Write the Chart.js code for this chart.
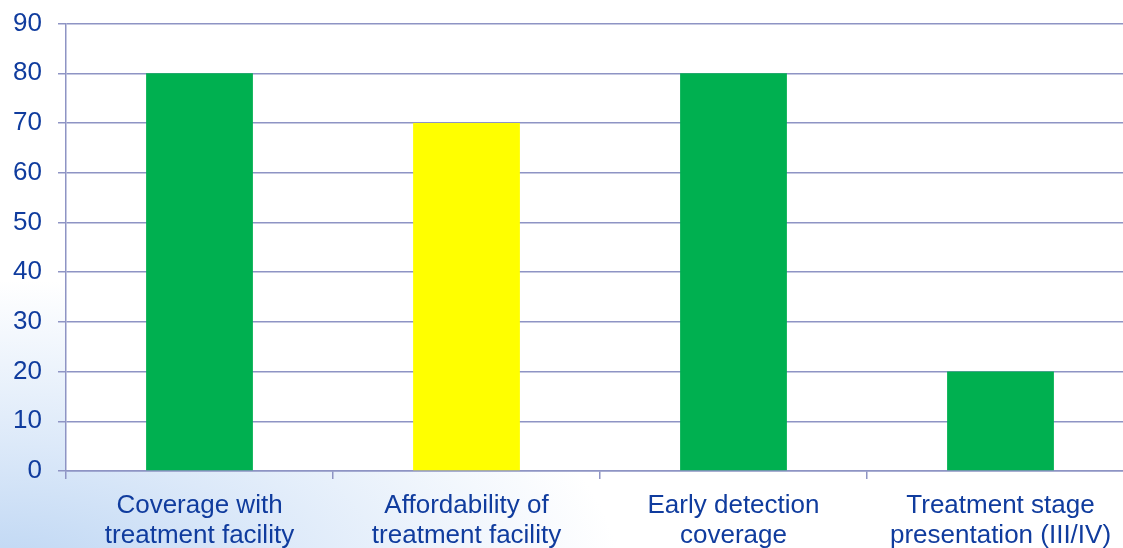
<!DOCTYPE html>
<html>
<head>
<meta charset="utf-8">
<script src="https://cdn.jsdelivr.net/npm/chart.js@4/dist/chart.umd.min.js"></script>
<style>
    html, body {
        margin: 0;
        padding: 0;
        width: 1123px;
        height: 548px;
        overflow: hidden;
        background: radial-gradient(ellipse 620px 300px at 0px 580px, #BCD5F3 0%, #DCE9F9 45%, #FFFFFF 100%);
    }
    #chartWrap {
        position: relative;
        top: -8px;
        width: 1136px;
        height: 556px;
    }
</style>
</head>
<body>
<div id="chartWrap"><canvas id="barChart"></canvas></div>
<script>
//Labels to use
const categories = [
    ['Coverage with', 'treatment facility'],
    ['Affordability of', 'treatment facility'],
    ['Early detection', 'coverage'],
    ['Treatment stage', 'presentation (III/IV)']
];
const values = [80, 70, 80, 20];
const barColours = ['#00B050', '#FFFF00', '#00B050', '#00B050'];
const yTicks = [0, 10, 20, 30, 40, 50, 60, 70, 80, 90];

const gridColour = '#8E94C4';
const textColour = '#103C9E';

Chart.defaults.font.family = '"Liberation Sans", Arial, sans-serif';
Chart.defaults.font.size = 26;
Chart.defaults.color = textColour;

//Plot area is white, the gradient only shows round it
const plotFill = {
    id: 'plotFill',
    beforeDraw(chart) {
        const {ctx, chartArea} = chart;
        ctx.save();
        ctx.fillStyle = '#FFFFFF';
        ctx.fillRect(chartArea.left, chartArea.top, chartArea.right - chartArea.left, chartArea.bottom - chartArea.top);
        ctx.restore();
    }
};

document.addEventListener("DOMContentLoaded", (event) => {
    const ctx = document.getElementById("barChart");

    const data = {
        labels: categories,
        datasets: [{
            data: values,
            backgroundColor: barColours,
            borderWidth: 0,
            barPercentage: 0.40,
            categoryPercentage: 1
        }]
    };

    const config = {
        type: 'bar',
        data: data,
        plugins: [plotFill],
        options: {
            responsive: true,
            maintainAspectRatio: false,
            animation: false,
            layout: {
                padding: {top: 0, right: 2, left: 13, bottom: 0}
            },
            scales: {
                x: {
                    offset: true,
                    afterFit: (axis) => { axis.height = 77; },
                    grid: {
                        offset: true,
                        drawOnChartArea: false,
                        color: gridColour,
                        lineWidth: 1.5,
                        tickLength: 8
                    },
                    border: {color: gridColour, width: 1.5},
                    ticks: {
                        color: textColour,
                        padding: 11,
                        maxRotation: 0,
                        font: {size: 26, lineHeight: 1.18}
                    }
                },
                y: {
                    min: 0,
                    max: 90,
                    afterFit: (axis) => { axis.width = 53; },
                    afterBuildTicks: (axis) => {
                        axis.ticks = yTicks.map(v => ({value: v}));
                    },
                    grid: {
                        color: gridColour,
                        lineWidth: 1.5,
                        tickLength: 8
                    },
                    border: {color: gridColour, width: 1.5},
                    ticks: {
                        color: textColour,
                        padding: 16,
                        font: {size: 26}
                    }
                }
            },
            plugins: {
                legend: {display: false},
                tooltip: {enabled: false}
            }
        }
    };
    new Chart(ctx, config);
});
</script>
</body>
</html>
